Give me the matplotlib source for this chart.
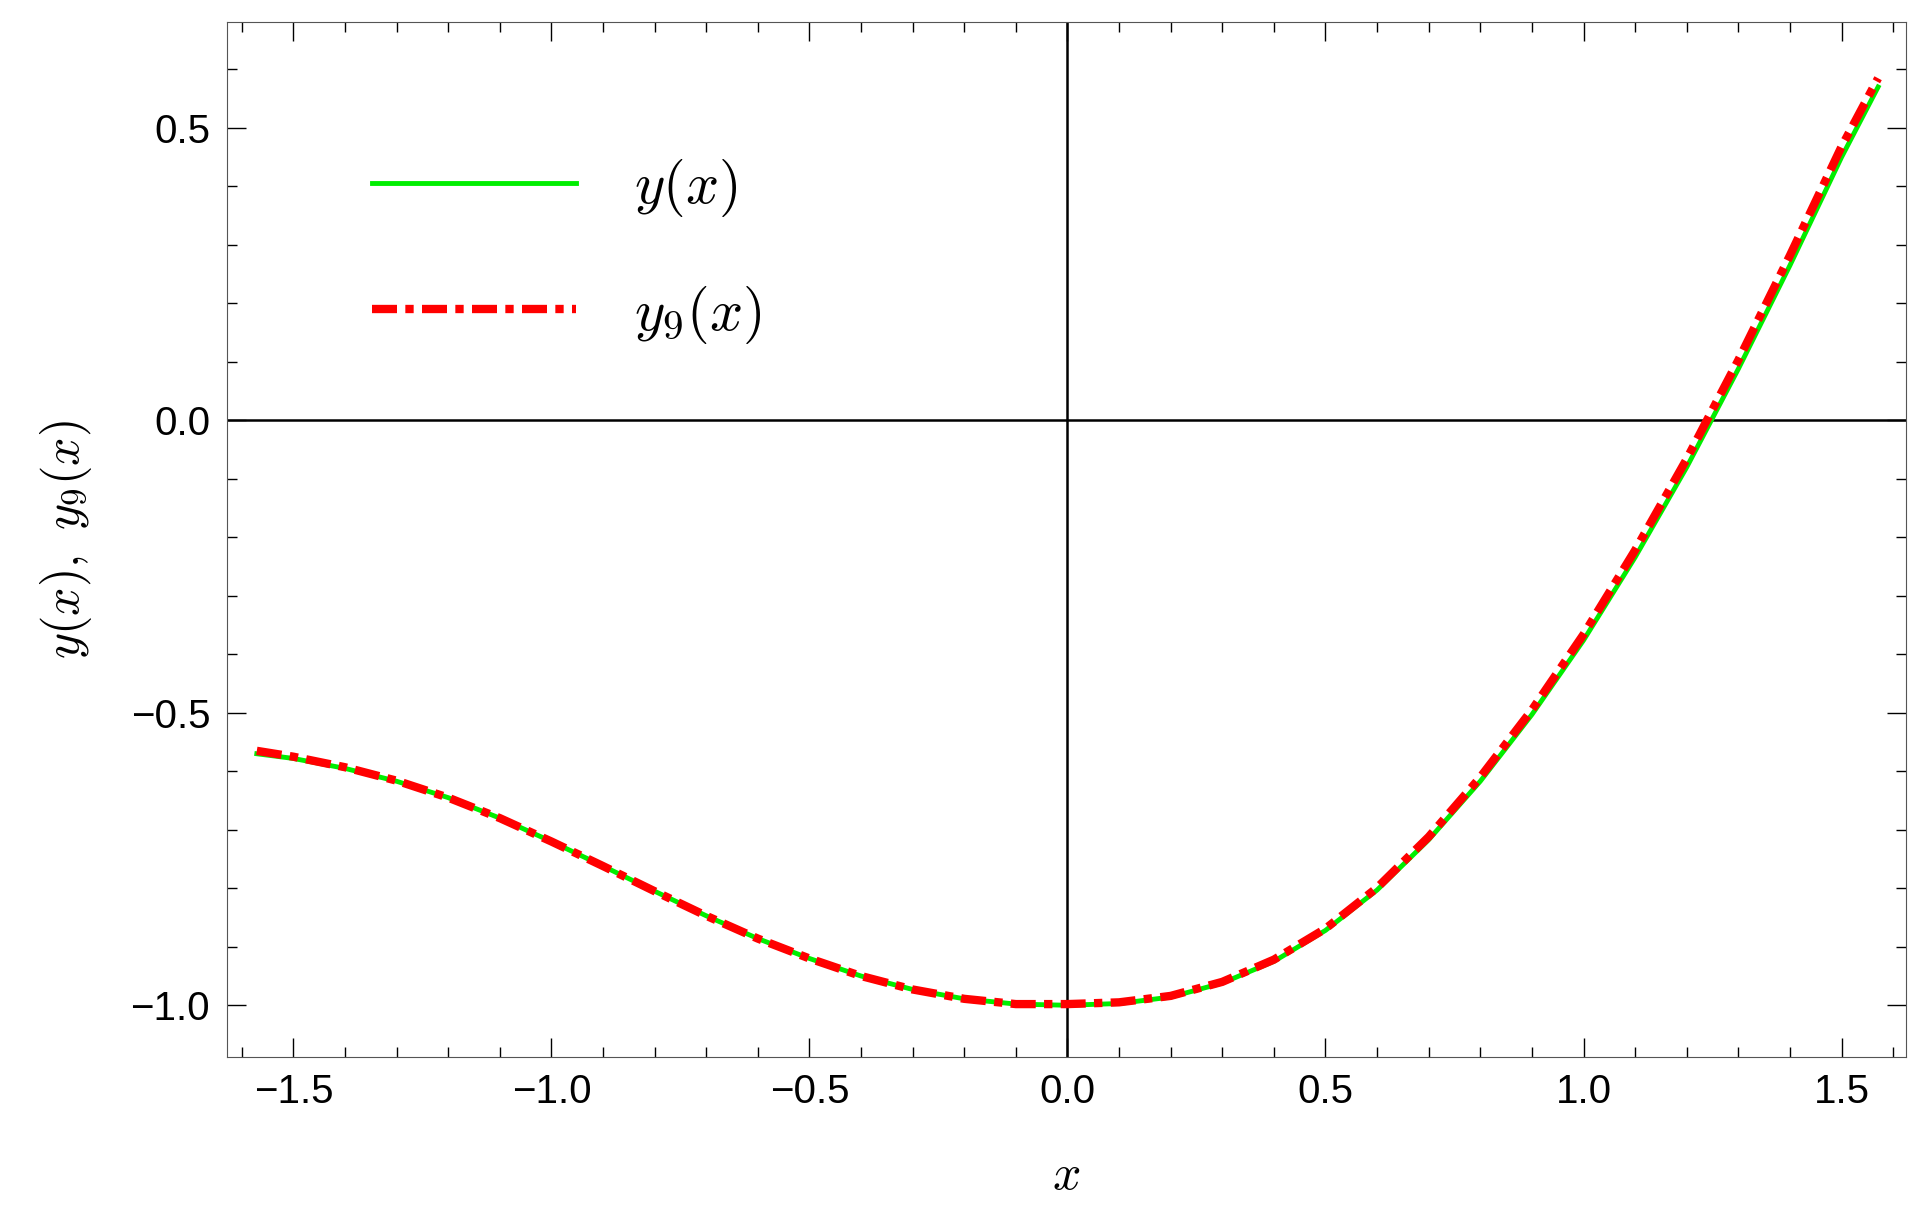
import matplotlib
matplotlib.use("Agg")
import matplotlib.pyplot as plt
from matplotlib.ticker import MultipleLocator, FuncFormatter

plt.rcParams['font.family'] = ['Liberation Sans', 'DejaVu Sans']
plt.rcParams['mathtext.fontset'] = 'cm'

x_vals = [-1.5708, -1.5, -1.4, -1.3, -1.2, -1.1, -1.0, -0.9, -0.8, -0.7, -0.6, -0.5, -0.4, -0.3, -0.2, -0.1, 0.0,
          0.1, 0.2, 0.3, 0.4, 0.5, 0.6, 0.7, 0.8, 0.9, 1.0, 1.1, 1.2, 1.3, 1.4, 1.5, 1.5708]
y_exact = [-0.570, -0.578, -0.595, -0.617, -0.645, -0.680, -0.720, -0.762, -0.805, -0.847, -0.886, -0.920, -0.950,
           -0.973, -0.989, -0.998, -1.000, -0.997, -0.986, -0.962, -0.925, -0.872, -0.803, -0.717, -0.617, -0.503,
           -0.376, -0.234, -0.080, 0.088, 0.265, 0.450, 0.570]
y_approx = [-0.565, -0.575, -0.593, -0.616, -0.645, -0.680, -0.720, -0.762, -0.805, -0.847, -0.886, -0.920, -0.950,
            -0.973, -0.989, -0.998, -0.998, -0.995, -0.984, -0.960, -0.922, -0.869, -0.799, -0.712, -0.610, -0.495,
            -0.366, -0.222, -0.066, 0.103, 0.282, 0.468, 0.585]

fig = plt.figure(figsize=(19.22, 12.21), dpi=100)
ax = fig.add_axes([185/1568, 1-862/996, (1555-185)/1568, (862-18)/996])
ax.axhline(0, color='black', lw=1.8)
ax.axvline(0, color='black', lw=1.8)
ax.plot(x_vals, y_exact, color='#00ee00', lw=3.5, label=r'$y(x)$')
ax.plot(x_vals, y_approx, color='red', lw=6, dashes=(3, 1, 1, 1), label=r'$y_9(x)$')
ax.set_xlim(-1.629, 1.625)
ax.set_ylim(-1.088, 0.681)
ax.xaxis.set_major_locator(MultipleLocator(0.5))
ax.xaxis.set_minor_locator(MultipleLocator(0.1))
ax.yaxis.set_major_locator(MultipleLocator(0.5))
ax.yaxis.set_minor_locator(MultipleLocator(0.1))
fmt = FuncFormatter(lambda v, p: ('%.1f' % v).replace('-', '\u2212'))
ax.xaxis.set_major_formatter(fmt)
ax.yaxis.set_major_formatter(fmt)
ax.tick_params(which='both', direction='in', top=True, right=True, labelsize=29, pad=12)
ax.tick_params(which='major', length=14, width=1)
ax.tick_params(which='minor', length=7, width=1)
for s in ax.spines.values():
    s.set_color('#555555')
ax.set_xlabel(r'$x$', fontsize=36, labelpad=30)
ax.set_ylabel(r'$y(x),\ y_9(x)$', fontsize=36, labelpad=26)
leg = ax.legend(loc='upper left', bbox_to_anchor=(0.055, 0.92), fontsize=42, frameon=False,
                handlelength=3.5, labelspacing=1.1, handletextpad=1.0)
fig.savefig('out.png', dpi=100)
